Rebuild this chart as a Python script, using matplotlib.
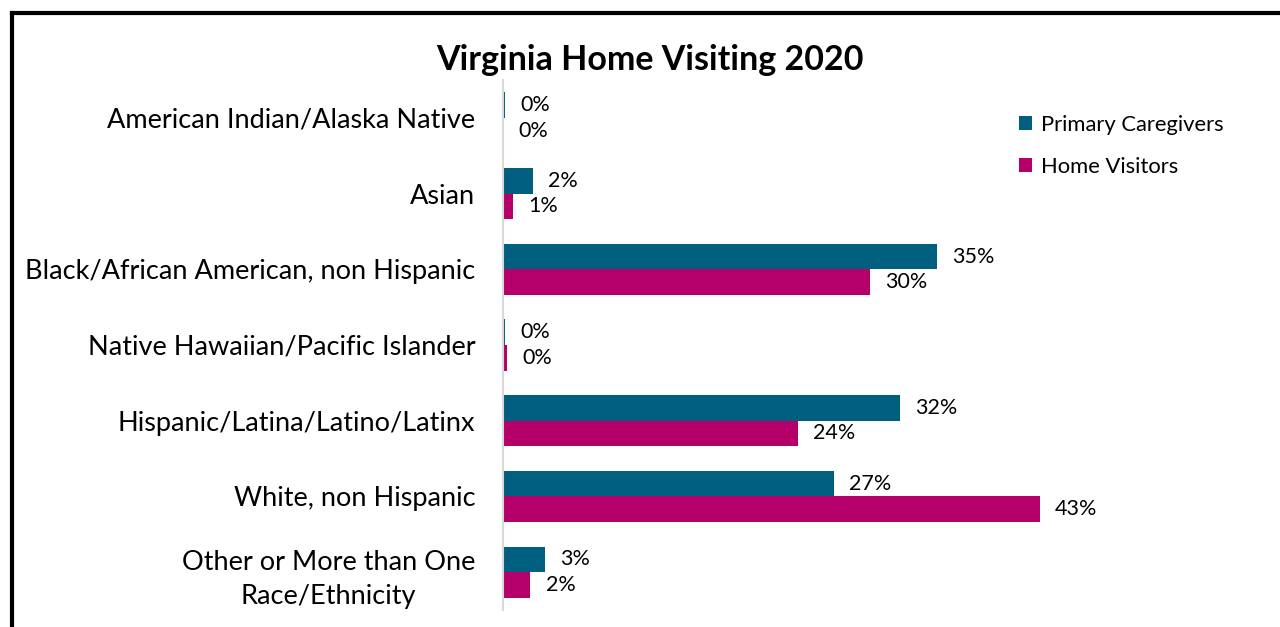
import numpy as np
import matplotlib
matplotlib.use("Agg")
from matplotlib import pyplot as plt
from matplotlib.lines import Line2D

categories = ["American Indian/Alaska Native", "Asian", "Black/African American, non Hispanic",
              "Native Hawaiian/Pacific Islander", "Hispanic/Latina/Latino/Latinx",
              "White, non Hispanic", "Other or More than One\nRace/Ethnicity"]
caregivers = [0.2, 2.4, 35.0, 0.2, 32.0, 26.7, 3.4]
visitors = [0.0, 0.8, 29.6, 0.3, 23.8, 43.3, 2.2]
series_names = ["Primary Caregivers", "Home Visitors"]
title = "Virginia Home Visiting 2020"

teal = "#005F7E"
magenta = "#B5006A"

plt.rcParams["font.family"] = ["Lato", "DejaVu Sans"]

W, H = 1280, 627
fig = plt.figure(figsize=(W / 100, H / 100), dpi=100)
ax = fig.add_axes([503 / W, 1 - 610 / H, (1260 - 503) / W, (610 - 80) / H])

y = np.arange(len(categories))
h = 0.337
ax.barh(y - h / 2, caregivers, height=h, color=teal, label=series_names[0])
ax.barh(y + h / 2, visitors, height=h, color=magenta, label=series_names[1])

for i in range(len(categories)):
    ax.annotate(f"{caregivers[i]:.0f}%", (caregivers[i], y[i] - h / 2), xytext=(11, 0),
                textcoords="offset points", va="center", ha="left", fontsize=15.5)
    ax.annotate(f"{visitors[i]:.0f}%", (visitors[i], y[i] + h / 2), xytext=(11, 0),
                textcoords="offset points", va="center", ha="left", fontsize=15.5)

ax.set_xlim(0, (1260 - 503) / 12.4)
ax.set_ylim(len(categories) - 0.5, -0.5)
ax.set_yticks(y)
ax.set_yticklabels(categories, fontsize=19.5, ha="right", multialignment="center", linespacing=1.45)
ax.tick_params(axis="y", length=0, pad=20)
ax.set_xticks([])
for s in ["top", "right", "bottom"]:
    ax.spines[s].set_visible(False)
ax.spines["left"].set_color("#d9d9d9")
ax.spines["left"].set_linewidth(1.5)

fig.text(650 / W, 1 - 60 / H, title, ha="center", va="center", fontsize=24.5, fontweight="bold")

ax.legend(loc="upper left", bbox_to_anchor=((999 - 503) / (1260 - 503), 1 - (95 - 80) / (610 - 80)),
          frameon=False, fontsize=15.8, handlelength=0.6, handleheight=0.6, handletextpad=0.4,
          labelspacing=1.0)

fig.add_artist(Line2D([12 / W, 12 / W], [0, 1 - 12.5 / H], color="black", lw=3, transform=fig.transFigure))
fig.add_artist(Line2D([12 / W, 1], [1 - 12.5 / H, 1 - 12.5 / H], color="black", lw=3, transform=fig.transFigure))

fig.savefig("out.png", dpi=100)
